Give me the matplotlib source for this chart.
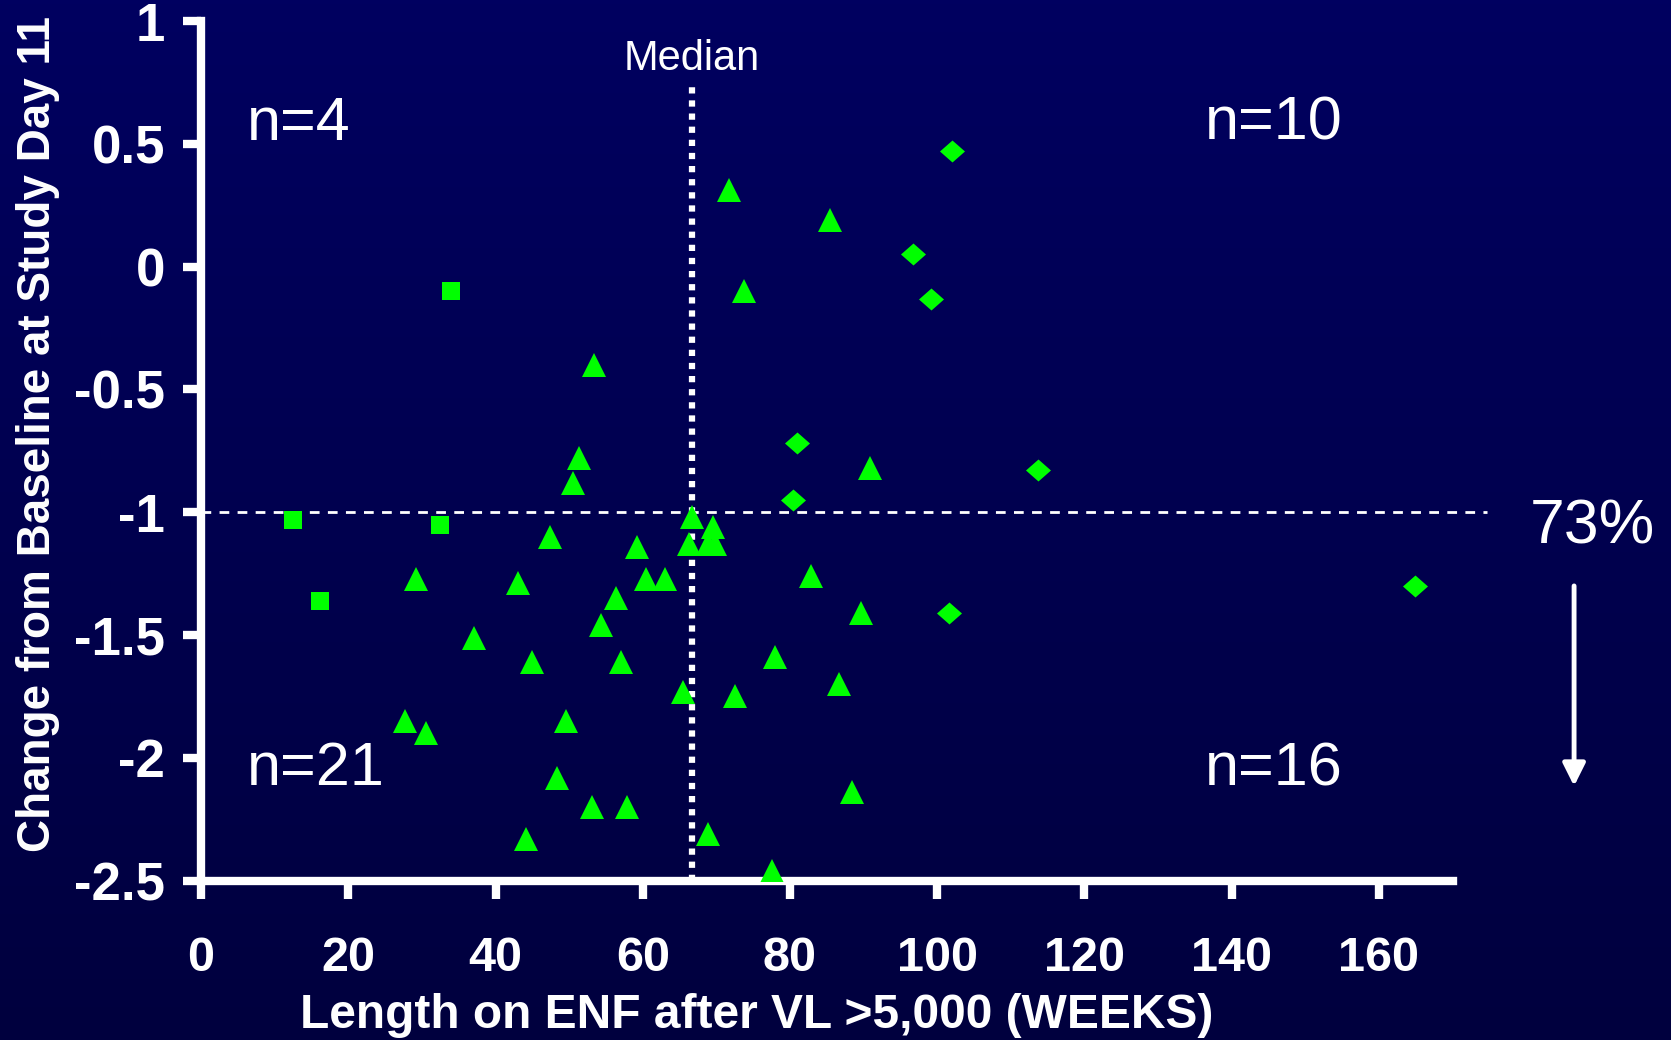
import numpy as np
import matplotlib

matplotlib.use('Agg')
import matplotlib.pyplot as plt

plt.rcParams['font.family'] = ['Liberation Sans', 'DejaVu Sans']
plt.rcParams['axes.unicode_minus'] = False

# data (weeks on ENF, change from baseline at day 11)
square_weeks = [34.0, 12.5, 32.4, 16.1]
square_change = [-0.10, -1.03, -1.05, -1.36]

triangle_weeks = [71.7, 85.4, 73.7, 53.4, 51.3, 50.5, 90.8, 66.7, 69.6, 47.4,
                  59.2, 66.3, 68.8, 69.8, 29.2, 43.1, 60.5, 63.0, 82.9, 56.3,
                  54.3, 89.6, 37.1, 45.0, 57.1, 78.0, 86.7, 65.4, 72.5, 27.7,
                  49.6, 30.5, 48.3, 88.4, 53.1, 57.9, 44.1, 68.8, 77.5]
triangle_change = [0.31, 0.19, -0.10, -0.40, -0.78, -0.88, -0.82, -1.02, -1.06, -1.10,
                   -1.14, -1.13, -1.13, -1.13, -1.27, -1.29, -1.27, -1.27, -1.26, -1.35,
                   -1.46, -1.41, -1.51, -1.61, -1.61, -1.59, -1.70, -1.73, -1.75, -1.85,
                   -1.85, -1.90, -2.08, -2.14, -2.20, -2.20, -2.33, -2.31, -2.46]

diamond_weeks = [102.0, 96.7, 99.1, 80.9, 113.7, 80.4, 101.6, 164.9]
diamond_change = [0.47, 0.05, -0.13, -0.72, -0.83, -0.95, -1.41, -1.30]

median_weeks = 66.7
cutoff = -1.0
quadrant_labels = ['n=4', 'n=10', 'n=21', 'n=16']
percent_label = '73%'

x_ticks = [0, 20, 40, 60, 80, 100, 120, 140, 160]
y_ticks = [1, 0.5, 0, -0.5, -1, -1.5, -2, -2.5]
y_tick_labels = ['1', '0.5', '0', '-0.5', '-1', '-1.5', '-2', '-2.5']

green = '#00FF00'

fig = plt.figure(figsize=(16.71, 10.4), dpi=100)

# navy gradient background
bg = fig.add_axes([0, 0, 1, 1], zorder=-10)
grad = np.linspace(0, 1, 256).reshape(-1, 1)
top = np.array([0, 0, 96]) / 255
bottom = np.array([0, 0, 62]) / 255
img = top + (bottom - top) * grad[:, :, None]
bg.imshow(img, aspect='auto', extent=[0, 1, 0, 1])
bg.axis('off')

ax = fig.add_axes([0.1203, 0.1532, 0.749, 0.8266])
ax.set_facecolor('none')
ax.set_xlim(0, 170)
ax.set_ylim(-2.5, 1)

for s in ['top', 'right']:
    ax.spines[s].set_visible(False)
for s in ['left', 'bottom']:
    ax.spines[s].set_color('white')
    ax.spines[s].set_linewidth(6)
    ax.spines[s].set_capstyle('projecting')

ax.set_xticks(x_ticks)
ax.set_xticklabels([str(t) for t in x_ticks])
ax.set_yticks(y_ticks)
ax.set_yticklabels(y_tick_labels)
ax.tick_params(direction='out', length=13, width=6, color='white', labelcolor='white')
ax.tick_params(axis='x', labelsize=35, pad=27)
ax.tick_params(axis='y', labelsize=38, pad=13)
for lab in ax.get_xticklabels() + ax.get_yticklabels():
    lab.set_fontweight('bold')

# reference lines
ax.plot([0, 174.7], [cutoff, cutoff], color='white', lw=2,
        dashes=(3.5, 3), clip_on=False, zorder=2)
ax.plot([median_weeks, median_weeks], [-2.5, 0.75], color='white', lw=4.5,
        linestyle=(0, (1, 1.1)), dash_capstyle='butt', zorder=2)
ax.text(median_weeks, 0.80, 'Median', ha='center', va='baseline',
        fontsize=30, color='white')

ax.plot(square_weeks, square_change, 's', ms=12.5, color=green, mec=green, mew=0, zorder=3)
ax.plot(triangle_weeks, triangle_change, '^', ms=17, color=green, mec=green, mew=0, zorder=3)
diamond = [(-1, 0), (0, 0.88), (1, 0), (0, -0.88)]
ax.plot(diamond_weeks, diamond_change, marker=diamond, ls='none', ms=18,
        color=green, mec=green, mew=0, zorder=3)

# quadrant counts
ax.text(6.25, 0.517, quadrant_labels[0], fontsize=44, color='white', va='baseline')
ax.text(136.3, 0.517, quadrant_labels[1], fontsize=44, color='white', va='baseline')
ax.text(6.25, -2.112, quadrant_labels[2], fontsize=44, color='white', va='baseline')
ax.text(136.3, -2.112, quadrant_labels[3], fontsize=44, color='white', va='baseline')

ax.text(189, -1.126, percent_label, ha='center', va='baseline', fontsize=45,
        color='white', clip_on=False)
ax.annotate('', xy=(186.5, -2.115), xytext=(186.5, -1.30),
            arrowprops=dict(arrowstyle='-|>', color='white', lw=3.5,
                            mutation_scale=34, shrinkA=0, shrinkB=0),
            annotation_clip=False)

fig.text(0.4528, 0.0115, 'Length on ENF after VL >5,000 (WEEKS)', ha='center',
         va='baseline', fontsize=34.5, fontweight='bold', color='white')
fig.text(0.0225, 0.5824, 'Change from Baseline at Study Day 11', rotation=90,
         ha='center', va='center', fontsize=33, fontweight='bold', color='white')

fig.savefig('out.png', dpi=100)
